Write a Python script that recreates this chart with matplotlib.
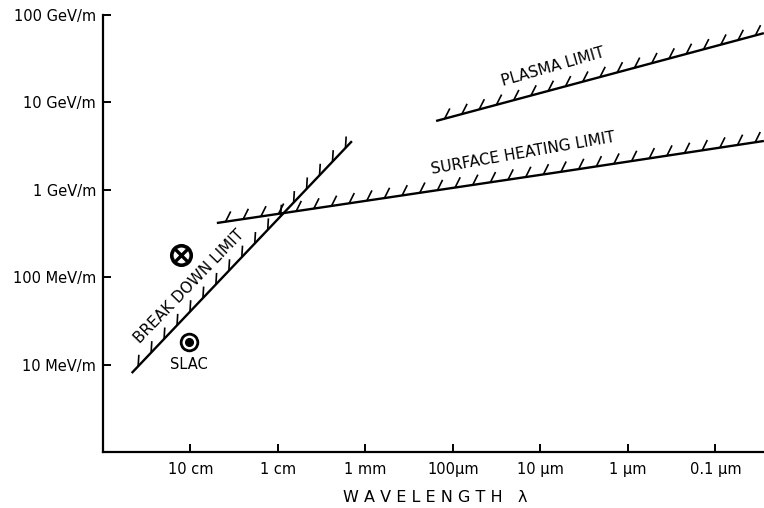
import numpy as np
import matplotlib
matplotlib.use("Agg")
import matplotlib.pyplot as plt
from matplotlib import patheffects as pe

# ---- data (wavelength in metres, gradient in MeV/m) ----
breakdown_wavelength = [0.47, 1.43e-3]
breakdown_gradient = [8.0, 3600.0]

surface_wavelength = [0.050, 6.0e-6, 2.8e-8]
surface_gradient = [417.0, 1600.0, 3620.0]

plasma_wavelength = [1.56e-4, 2.8e-8]
plasma_gradient = [6130.0, 62000.0]

cross_point_wavelength = [0.128]
cross_point_gradient = [180.0]

slac_wavelength = [0.104]
slac_gradient = [18.0]

xtick_values = [0.1, 0.01, 1e-3, 1e-4, 1e-5, 1e-6, 1e-7]
xtick_labels = ["10 cm", "1 cm", "1 mm", "100\u03bcm", "10 \u03bcm", "1 \u03bcm", "0.1 \u03bcm"]
ytick_values = [10, 100, 1000, 1e4, 1e5]
ytick_labels = ["10 MeV/m", "100 MeV/m", "1 GeV/m", "10 GeV/m", "100 GeV/m"]

plt.rcParams['font.family'] = ['DejaVu Sans']

fig = plt.figure(figsize=(7.64, 5.08), dpi=100)
ax = fig.add_axes([103/764, 1 - 452/508, 661/764, 437/508])
ax.set_xscale('log')
ax.set_yscale('log')
ax.set_xlim(1.0, 10**(-661/87.5))
ax.set_ylim(1.0, 1e5)

for s in ['top', 'right']:
    ax.spines[s].set_visible(False)
for s in ['left', 'bottom']:
    ax.spines[s].set_linewidth(1.6)

ax.set_xticks(xtick_values)
ax.set_xticklabels(xtick_labels, fontsize=10.5)
ax.set_yticks(ytick_values)
ax.set_yticklabels(ytick_labels, fontsize=10.5)
ax.minorticks_off()
ax.tick_params(axis='x', direction='in', length=5.5, width=1.4, pad=7)
ax.tick_params(axis='y', direction='in', length=6, width=1.4, pad=5)

fig.text(435/764, 1 - 497/508, "W A V E L E N G T H   \u03bb", fontsize=11.5,
         ha='center', va='center')

def hatched(xs, ys, angle, spacing=12.7, length_px=11.5):
    ax.plot(xs, ys, color='black', lw=1.7, solid_capstyle='butt',
            path_effects=[pe.Normal(),
                          pe.TickedStroke(spacing=spacing, angle=angle,
                                          length=(length_px * 0.72) / spacing,
                                          linewidth=1.2)])

hatched(breakdown_wavelength, breakdown_gradient, angle=40, spacing=13.5)
hatched(surface_wavelength, surface_gradient, angle=55)
hatched(plasma_wavelength, plasma_gradient, angle=48)

# markers
ax.plot(cross_point_wavelength, cross_point_gradient, 'o', ms=14, mfc='white',
        mec='black', mew=2.6)
ax.plot(cross_point_wavelength, cross_point_gradient, 'x', ms=8, mec='black', mew=2.4)
ax.plot(slac_wavelength, slac_gradient, 'o', ms=12, mfc='white', mec='black', mew=2.0)
ax.plot(slac_wavelength, slac_gradient, 'o', ms=5.5, mfc='black', mec='black')

ax.text(0.104, 9.9, "SLAC", fontsize=10.5, ha='center', va='center')
ax.text(0.104, 79, "BREAK DOWN LIMIT", fontsize=11, rotation=46,
        rotation_mode='anchor', ha='center', va='center')
ax.text(7.2e-6, 25400, "PLASMA LIMIT", fontsize=11, rotation=16,
        rotation_mode='anchor', ha='center', va='center')
ax.text(1.58e-5, 2640, "SURFACE HEATING LIMIT", fontsize=11, rotation=10,
        rotation_mode='anchor', ha='center', va='center')

fig.savefig("out.png", dpi=100)
